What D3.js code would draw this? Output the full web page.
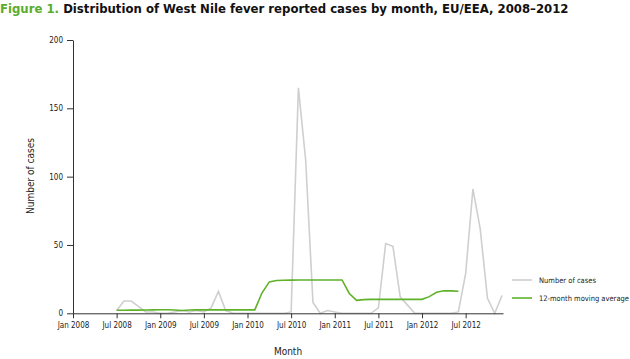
<!DOCTYPE html>
<html><head><meta charset="utf-8">
<script src="https://cdn.jsdelivr.net/npm/d3@7"></script>
<style>body{margin:0;background:#fff}svg{display:block}</style>
</head><body><div id="c"></div>
<script>
const months = [];
const mNames = ["Jan","Feb","Mar","Apr","May","Jun","Jul","Aug","Sep","Oct","Nov","Dec"];
for (let y = 2008; y <= 2012; y++) for (let m = 0; m < 12; m++) months.push(mNames[m] + " " + y);
const tickLabels = ["Jan 2008","Jul 2008","Jan 2009","Jul 2009","Jan 2010","Jul 2010","Jan 2011","Jul 2011","Jan 2012","Jul 2012"];
const yTicks = [0, 50, 100, 150, 200];
// Number of cases, Jul 2008 .. Dec 2012
const casesStart = "Jul 2008";
const cases = [2,9,9,5,1,1,
  0,0,1,2,1,2,1,4,16,2,0,0,
  0,0,0,0,0,0,1,165,112,8,0,2,
  1,0,0,0,0,0,4,51,49,12,6,0,
  0,0,0,0,0,1,29,91,62,11,0,13];
// 12-month moving average, Jul 2008 .. Jun 2012
const maStart = "Jul 2008";
const movingAvg = [2.2,2.2,2.3,2.3,2.4,2.5,
  2.6,2.6,2.4,2.0,2.4,2.6,2.5,2.5,2.5,2.5,2.5,2.5,
  2.5,2.5,15,23,24,24.2,24.3,24.4,24.4,24.4,24.4,24.4,
  24.4,24.4,14.5,9.5,10,10.2,10.2,10.2,10.2,10.2,10.2,10.2,
  10.2,12.2,15.4,16.5,16.4,16.1];

const W = 630, H = 359;
const svg = d3.select("#c").append("svg").attr("width", W).attr("height", H)
  .style("font-family", "'DejaVu Sans Condensed','DejaVu Sans',sans-serif");

const x = d3.scalePoint().domain(months).range([73, 502]);
const y = d3.scaleLinear().domain([0, 200]).range([313.3, 40]);

const title = svg.append("text").attr("x", 0).attr("y", 13).attr("font-size", 13).attr("font-weight", "bold");
title.append("tspan").attr("fill", "#5aac2c").text("Figure 1. ");
title.append("tspan").attr("fill", "#111").text("Distribution of West Nile fever reported cases by month, EU/EEA, 2008\u20132012");

const cIdx = months.indexOf(casesStart);
const caseData = cases.map((v, i) => ({m: months[cIdx + i], v}));
const mIdx = months.indexOf(maStart);
const maData = movingAvg.map((v, i) => ({m: months[mIdx + i], v}));
const line = d3.line().x(d => x(d.m)).y(d => y(d.v));

svg.append("path").datum(caseData).attr("d", line).attr("fill", "none")
  .attr("stroke", "#cfcfcf").attr("stroke-width", 1.6);
svg.append("path").datum(maData).attr("d", line).attr("fill", "none")
  .attr("stroke", "#5fb12a").attr("stroke-width", 1.6);

const axisColor = "#333";
const xAxis = svg.append("g").attr("transform", "translate(0,313.3)")
  .call(d3.axisBottom(x).tickValues(tickLabels).tickSize(5).tickSizeOuter(0));
xAxis.select(".domain").attr("d", "M73,0.5H503.5");
const yAxis = svg.append("g").attr("transform", "translate(73,0)")
  .call(d3.axisLeft(y).tickValues(yTicks).tickSize(6).tickSizeOuter(0).tickPadding(4));
[xAxis, yAxis].forEach(g => {
  g.selectAll("path,line").attr("stroke", axisColor);
  g.selectAll("text").attr("font-size", 8).attr("fill", "#222")
    .style("font-family", "'DejaVu Sans Condensed','DejaVu Sans',sans-serif");
});
xAxis.selectAll("text").attr("dy", "0.9em");

svg.append("text").attr("transform", "translate(34,176) rotate(-90)").attr("text-anchor", "middle")
  .attr("font-size", 10).attr("fill", "#222").text("Number of cases");
svg.append("text").attr("x", 288).attr("y", 355).attr("text-anchor", "middle")
  .attr("font-size", 10).attr("fill", "#222").text("Month");

const legend = [{label: "Number of cases", color: "#cfcfcf", y: 280},
                {label: "12-month moving average", color: "#5fb12a", y: 298}];
legend.forEach(l => {
  svg.append("line").attr("x1", 512).attr("x2", 532).attr("y1", l.y).attr("y2", l.y)
    .attr("stroke", l.color).attr("stroke-width", 1.6);
  svg.append("text").attr("x", 539).attr("y", l.y).attr("dy", "0.35em")
    .attr("font-size", 7.5).attr("fill", "#222").text(l.label);
});
</script></body></html>
